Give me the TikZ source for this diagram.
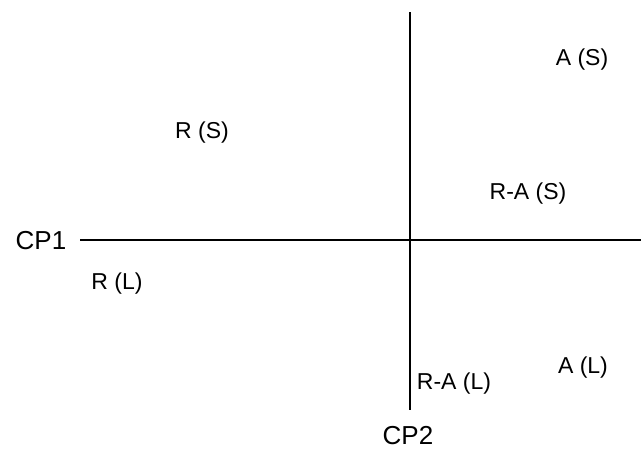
\documentclass[tikz,border=0pt]{standalone}
\usepackage{fontspec}
\setmainfont{Liberation Sans}
\usepackage{tikz}
\usetikzlibrary{positioning}
\tikzset{
    axislbl/.style={font=\fontsize{26}{30}\selectfont, inner sep=0pt},
    zonelbl/.style={font=\fontsize{23}{27}\selectfont, inner sep=0pt},
    axisline/.style={line width=2.6pt, black},
}

\begin{document}
\begin{tikzpicture}[x=1pt, y=-1pt]
    \useasboundingbox (0,0) rectangle (641,450);

    % axes
    \coordinate (hl) at (80,240);
    \coordinate (hr) at (641,240);
    \coordinate (vt) at (410,12);
    \coordinate (vb) at (410,410);
    \draw[axisline] (hl) -- (hr);
    \draw[axisline] (vt) -- (vb);

    \node[axislbl] (cp1) at (41,241)  {CP1};
    \node[axislbl] (cp2) at (408,436) {CP2};

    % regions
    \node[zonelbl] (rs)  at (202,133) {R (S)};
    \node[zonelbl] (as)  at (582,60)  {A (S)};
    \node[zonelbl] (ras) at (528,194) {R-A (S)};
    \node[zonelbl] (rl)  at (117,284) {R (L)};
    \node[zonelbl] (al)  at (583,368) {A (L)};
    \node[zonelbl] (ral) at (454,384) {R-A (L)};
\end{tikzpicture}
\end{document}
